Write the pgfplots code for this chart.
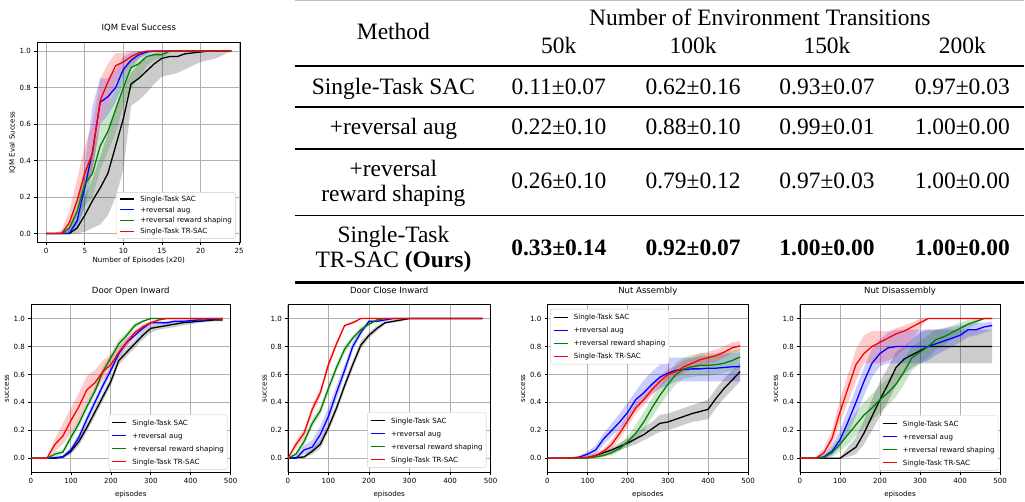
\documentclass[border=0pt]{standalone}
\usepackage{pgfplots}
\pgfplotsset{compat=1.18}
\usepackage{pgfplotstable}
\usepgfplotslibrary{fillbetween}
\usepackage{fontspec}
\setmainfont{Liberation Serif}
\newfontfamily\dejavu{DejaVu Sans}
\definecolor{mblue}{HTML}{0000FF}
\definecolor{mgreen}{HTML}{008000}
\definecolor{mred}{HTML}{FF0000}
\definecolor{gridc}{HTML}{B0B0B0}
\definecolor{legc}{HTML}{CCCCCC}
\newcommand{\tickfont}{\dejavu\fontsize{7.1}{8.5}\selectfont}
\newcommand{\titlefont}{\dejavu\fontsize{8.55}{10}\selectfont}
\newcommand{\tabfont}{\fontsize{23.5}{28}\selectfont}

\pgfplotsset{
  mplstyle/.style={
    scale only axis,
    anchor=north west,
    axis line style={black, line width=0.6pt},
    grid=major,
    major grid style={gridc, line width=0.8pt},
    tick align=outside,
    tick pos=left,
    major tick length=2.5pt,
    every tick/.style={black, line width=0.6pt},
    tick label style={font=\tickfont},
    label style={font=\tickfont},
    title style={font=\titlefont, at={(axis description cs:0.5,1)}, anchor=base, yshift=5.5pt},
    /pgf/number format/assume math mode=true,
    yticklabel style={/pgf/number format/fixed, /pgf/number format/fixed zerofill, /pgf/number format/precision=1},
    ytick={0,0.2,0.4,0.6,0.8,1},
  },
  bot/.style={
    mplstyle, width=200pt, height=168pt,
    xmin=0, xmax=500, ymin=-0.1, ymax=1.1,
    xtick={0,100,200,300,400,500},
    xlabel={episodes}, ylabel={success},
    xlabel style={at={(axis description cs:0.5,0)}, anchor=base, yshift=-24.3pt},
  },
}

% legend key: coloured rule + label
\newcommand{\lkey}[1]{\textcolor{#1}{\rule[1.7pt]{14pt}{1.2pt}}}
% #1 = array stretch, #2 = position, #3 = anchor
\newcommand{\mlegend}[3]{%
  \node[draw=legc, rounded corners=2pt, fill=white, inner xsep=3.5pt, inner ysep=1.5pt,
        anchor=#3, font=\tickfont] at (#2) {%
    \def\arraystretch{#1}%
    \begin{tabular}{@{}l@{\hspace{6pt}}l@{}}
    \lkey{black} & Single-Task SAC\\
    \lkey{mblue} & +reversal aug\\
    \lkey{mgreen} & +reversal reward shaping\\
    \lkey{mred} & Single-Task TR-SAC
    \end{tabular}};
}

\newcommand{\drawset}[1]{%
  \addplot[draw=none,forget plot,name path=kh] table[x=x,y=kh]{#1};
  \addplot[draw=none,forget plot,name path=kl] table[x=x,y=kl]{#1};
  \addplot[fill=black,fill opacity=0.2,draw=none,forget plot] fill between[of=kh and kl];
  \addplot[draw=none,forget plot,name path=bh] table[x=x,y=bh]{#1};
  \addplot[draw=none,forget plot,name path=bl] table[x=x,y=bl]{#1};
  \addplot[fill=mblue,fill opacity=0.2,draw=none,forget plot] fill between[of=bh and bl];
  \addplot[draw=none,forget plot,name path=gh] table[x=x,y=gh]{#1};
  \addplot[draw=none,forget plot,name path=gl] table[x=x,y=gl]{#1};
  \addplot[fill=mgreen,fill opacity=0.2,draw=none,forget plot] fill between[of=gh and gl];
  \addplot[draw=none,forget plot,name path=rh] table[x=x,y=rh]{#1};
  \addplot[draw=none,forget plot,name path=rl] table[x=x,y=rl]{#1};
  \addplot[fill=mred,fill opacity=0.2,draw=none,forget plot] fill between[of=rh and rl];
  \addplot[black,line width=1.3pt,forget plot] table[x=x,y=km]{#1};
  \addplot[mblue,line width=1.3pt,forget plot] table[x=x,y=bm]{#1};
  \addplot[mgreen,line width=1.3pt,forget plot] table[x=x,y=gm]{#1};
  \addplot[mred,line width=1.3pt,forget plot] table[x=x,y=rm]{#1};
}

\pgfplotstableread{
x km kl kh bm bl bh gm gl gh rm rl rh
0 0 0 0 0 0 0 0 0 0 0 0 0
1 0 0 0 0 0 0 0 0 0 0 0 0
2 0 0 0 0 0 0 0 0 0.01 0 0 0.02
3 0 0 0.02 0 0 0.03 0.03 0 0.06 0.06 0.02 0.12
4 0.03 0 0.08 0.07 0.02 0.13 0.12 0.05 0.2 0.18 0.1 0.3
5 0.1 0.01 0.2 0.25 0.15 0.38 0.27 0.15 0.35 0.33 0.24 0.48
6 0.18 0.03 0.3 0.45 0.35 0.7 0.33 0.2 0.45 0.44 0.35 0.6
7 0.25 0.05 0.42 0.72 0.6 0.85 0.48 0.35 0.6 0.73 0.6 0.85
8 0.33 0.1 0.55 0.75 0.65 0.85 0.56 0.45 0.7 0.83 0.7 0.93
9 0.48 0.2 0.68 0.8 0.72 0.9 0.68 0.55 0.8 0.92 0.83 0.99
10 0.63 0.35 0.8 0.9 0.82 0.97 0.8 0.7 0.9 0.94 0.88 0.99
11 0.82 0.7 0.88 0.95 0.9 0.99 0.91 0.8 0.96 0.97 0.93 1
12 0.85 0.73 0.93 0.98 0.96 1 0.93 0.85 0.98 0.99 0.96 1
13 0.89 0.77 0.97 0.995 0.98 1 0.97 0.92 1 1 0.99 1
14 0.93 0.82 0.99 1 1 1 0.98 0.95 1 1 1 1
15 0.96 0.86 1 1 1 1 0.98 0.96 1 1 1 1
16 0.97 0.87 1 1 1 1 1 0.99 1 1 1 1
17 0.97 0.88 1 1 1 1 1 1 1 1 1 1
18 0.985 0.9 1 1 1 1 1 1 1 1 1 1
19 0.99 0.92 1 1 1 1 1 1 1 1 1 1
20 0.995 0.94 1 1 1 1 1 1 1 1 1 1
21 1 0.95 1 1 1 1 1 1 1 1 1 1
22 1 0.96 1 1 1 1 1 1 1 1 1 1
23 1 0.98 1 1 1 1 1 1 1 1 1 1
24 1 1 1 1 1 1 1 1 1 1 1 1
}\tabIQM

\pgfplotstableread{
x km kl kh bm bl bh gm gl gh rm rl rh
0 0 0 0 0 0 0 0 0 0 0 0 0
20 0 0 0 0 0 0 0 0 0 0 0 0
40 0 0 0 0 0 0 0 0 0 0 0 0.01
60 0 0 0.01 0.005 0 0.01 0.03 0.01 0.05 0.1 0.05 0.14
80 0.01 0 0.02 0.01 0 0.02 0.045 0.03 0.06 0.16 0.1 0.25
100 0.05 0.03 0.07 0.06 0.04 0.08 0.15 0.12 0.18 0.27 0.18 0.36
120 0.12 0.09 0.15 0.15 0.12 0.18 0.25 0.22 0.28 0.37 0.27 0.47
140 0.22 0.19 0.25 0.28 0.25 0.31 0.37 0.34 0.4 0.49 0.4 0.59
160 0.33 0.3 0.36 0.4 0.37 0.43 0.48 0.45 0.51 0.54 0.47 0.63
180 0.44 0.41 0.47 0.52 0.49 0.55 0.62 0.59 0.65 0.62 0.56 0.7
200 0.55 0.52 0.58 0.63 0.6 0.66 0.72 0.69 0.75 0.67 0.62 0.74
220 0.7 0.67 0.73 0.75 0.72 0.78 0.82 0.79 0.85 0.76 0.73 0.8
240 0.76 0.73 0.79 0.83 0.8 0.86 0.88 0.86 0.9 0.83 0.8 0.86
260 0.82 0.79 0.85 0.88 0.86 0.9 0.95 0.93 0.97 0.9 0.88 0.92
280 0.88 0.85 0.91 0.93 0.91 0.95 0.98 0.97 0.99 0.94 0.92 0.96
300 0.93 0.9 0.95 0.97 0.95 0.98 1 1 1 0.97 0.96 0.98
320 0.94 0.92 0.96 0.97 0.96 0.98 1 1 1 0.99 0.98 1
340 0.95 0.93 0.97 0.97 0.96 0.98 1 1 1 1 1 1
360 0.96 0.94 0.97 0.98 0.97 0.99 1 1 1 1 1 1
380 0.97 0.95 0.98 0.98 0.97 0.99 1 1 1 1 1 1
400 0.975 0.96 0.985 0.985 0.975 0.995 1 1 1 1 1 1
420 0.98 0.97 0.99 0.99 0.98 1 1 1 1 1 1 1
440 0.985 0.975 0.99 0.99 0.98 1 1 1 1 1 1 1
460 0.99 0.98 1 0.995 0.99 1 1 1 1 1 1 1
480 0.99 0.98 1 1 1 1 1 1 1 1 1 1
}\tabDO

\pgfplotstableread{
x km kl kh bm bl bh gm gl gh rm rl rh
0 0 0 0 0 0 0 0 0 0 0 0 0
20 0.005 0 0.01 0 0 0.01 0.03 0.01 0.05 0.1 0.07 0.13
40 0.01 0 0.02 0.06 0.03 0.09 0.12 0.09 0.15 0.18 0.15 0.21
60 0.05 0.03 0.07 0.08 0.04 0.13 0.25 0.22 0.28 0.35 0.32 0.38
80 0.1 0.07 0.13 0.17 0.11 0.23 0.34 0.31 0.37 0.47 0.44 0.5
100 0.22 0.19 0.25 0.3 0.25 0.36 0.5 0.47 0.53 0.67 0.64 0.7
120 0.36 0.33 0.39 0.47 0.42 0.52 0.65 0.62 0.68 0.82 0.8 0.84
140 0.52 0.49 0.55 0.63 0.59 0.67 0.78 0.75 0.81 0.95 0.94 0.96
160 0.67 0.64 0.7 0.8 0.77 0.83 0.86 0.84 0.88 0.97 0.96 0.98
180 0.81 0.78 0.84 0.9 0.88 0.92 0.92 0.9 0.94 1 1 1
200 0.88 0.86 0.9 0.98 0.97 0.99 0.96 0.95 0.97 1 1 1
220 0.93 0.91 0.95 0.98 0.97 0.99 0.99 0.98 1 1 1 1
240 0.97 0.96 0.98 0.99 0.98 1 1 1 1 1 1 1
260 0.98 0.97 0.99 1 1 1 1 1 1 1 1 1
280 0.99 0.98 1 1 1 1 1 1 1 1 1 1
300 1 1 1 1 1 1 1 1 1 1 1 1
320 1 1 1 1 1 1 1 1 1 1 1 1
340 1 1 1 1 1 1 1 1 1 1 1 1
360 1 1 1 1 1 1 1 1 1 1 1 1
380 1 1 1 1 1 1 1 1 1 1 1 1
400 1 1 1 1 1 1 1 1 1 1 1 1
420 1 1 1 1 1 1 1 1 1 1 1 1
440 1 1 1 1 1 1 1 1 1 1 1 1
460 1 1 1 1 1 1 1 1 1 1 1 1
480 1 1 1 1 1 1 1 1 1 1 1 1
}\tabDC

\pgfplotstableread{
x km kl kh bm bl bh gm gl gh rm rl rh
0 0 0 0 0 0 0 0 0 0 0 0 0
20 0 0 0 0 0 0.005 0 0 0 0 0 0.005
40 0 0 0 0 0 0.005 0 0 0 0 0 0.005
60 0 0 0 0 0 0.01 0 0 0 0.003 0 0.008
80 0 0 0.005 0.01 0 0.02 0 0 0.005 0.005 0 0.01
100 0.005 0 0.01 0.03 0.01 0.05 0.003 0 0.01 0.008 0 0.02
120 0.02 0.01 0.03 0.06 0.03 0.09 0.01 0 0.02 0.02 0.01 0.04
140 0.04 0.02 0.06 0.14 0.1 0.18 0.02 0.01 0.03 0.05 0.03 0.07
160 0.06 0.04 0.08 0.2 0.16 0.25 0.04 0.02 0.06 0.1 0.07 0.13
180 0.085 0.06 0.11 0.26 0.21 0.32 0.07 0.05 0.1 0.18 0.14 0.22
200 0.11 0.08 0.14 0.33 0.27 0.4 0.12 0.09 0.16 0.27 0.23 0.31
220 0.14 0.1 0.18 0.42 0.35 0.48 0.18 0.13 0.24 0.36 0.32 0.4
240 0.17 0.13 0.22 0.47 0.41 0.56 0.26 0.2 0.33 0.42 0.38 0.46
260 0.21 0.16 0.26 0.53 0.46 0.62 0.36 0.29 0.43 0.49 0.45 0.53
280 0.25 0.19 0.31 0.58 0.5 0.67 0.45 0.38 0.52 0.55 0.51 0.59
300 0.26 0.2 0.32 0.61 0.52 0.72 0.53 0.46 0.6 0.6 0.56 0.64
320 0.28 0.22 0.34 0.63 0.55 0.72 0.6 0.53 0.68 0.62 0.58 0.66
340 0.3 0.24 0.36 0.635 0.55 0.72 0.64 0.57 0.72 0.655 0.61 0.7
360 0.32 0.26 0.38 0.64 0.55 0.72 0.655 0.58 0.74 0.68 0.64 0.72
380 0.335 0.27 0.4 0.64 0.55 0.73 0.665 0.59 0.75 0.705 0.66 0.75
400 0.35 0.28 0.42 0.645 0.55 0.73 0.665 0.59 0.75 0.72 0.68 0.76
420 0.43 0.36 0.5 0.645 0.55 0.74 0.67 0.6 0.75 0.735 0.69 0.78
440 0.5 0.43 0.57 0.65 0.55 0.75 0.68 0.61 0.76 0.76 0.72 0.8
460 0.56 0.49 0.63 0.655 0.55 0.75 0.7 0.63 0.77 0.79 0.75 0.83
480 0.62 0.55 0.68 0.655 0.55 0.76 0.725 0.66 0.78 0.805 0.77 0.84
}\tabNA

\pgfplotstableread{
x km kl kh bm bl bh gm gl gh rm rl rh
0 0 0 0 0 0 0 0 0 0 0 0 0
20 0 0 0 0 0 0 0 0 0 0 0 0
40 0 0 0 0 0 0.005 0 0 0.005 0 0 0.01
60 0 0 0 0.01 0 0.03 0.005 0 0.02 0.04 0.02 0.07
80 0 0 0 0.05 0.02 0.09 0.04 0.01 0.08 0.14 0.09 0.2
100 0 0 0.005 0.13 0.08 0.2 0.1 0.05 0.16 0.33 0.25 0.42
120 0.04 0.01 0.08 0.26 0.18 0.35 0.17 0.1 0.25 0.5 0.4 0.6
140 0.08 0.03 0.15 0.4 0.3 0.5 0.24 0.16 0.33 0.67 0.55 0.78
160 0.18 0.1 0.27 0.55 0.45 0.65 0.31 0.22 0.4 0.75 0.68 0.88
180 0.3 0.2 0.42 0.68 0.58 0.78 0.36 0.27 0.46 0.8 0.68 0.91
200 0.42 0.3 0.55 0.75 0.66 0.85 0.42 0.33 0.52 0.83 0.68 0.91
220 0.53 0.41 0.65 0.79 0.68 0.9 0.47 0.38 0.57 0.86 0.7 0.91
240 0.65 0.52 0.76 0.8 0.68 0.92 0.53 0.44 0.63 0.89 0.73 0.93
260 0.71 0.6 0.8 0.8 0.68 0.92 0.62 0.53 0.71 0.91 0.78 0.95
280 0.74 0.65 0.85 0.8 0.68 0.92 0.72 0.63 0.8 0.94 0.85 0.97
300 0.77 0.68 0.9 0.8 0.68 0.92 0.76 0.68 0.84 0.97 0.93 1
320 0.8 0.68 0.92 0.8 0.7 0.92 0.8 0.72 0.88 1 1 1
340 0.8 0.68 0.92 0.82 0.74 0.92 0.85 0.78 0.92 1 1 1
360 0.8 0.68 0.92 0.84 0.77 0.93 0.87 0.81 0.93 1 1 1
380 0.8 0.68 0.92 0.86 0.8 0.94 0.9 0.85 0.95 1 1 1
400 0.8 0.68 0.92 0.88 0.83 0.95 0.93 0.89 0.97 1 1 1
420 0.8 0.68 0.92 0.92 0.87 0.96 0.96 0.93 0.99 1 1 1
440 0.8 0.68 0.92 0.92 0.88 0.97 0.98 0.96 1 1 1 1
460 0.8 0.68 0.92 0.94 0.9 0.97 1 1 1 1 1 1
480 0.8 0.68 0.92 0.95 0.92 0.98 1 1 1 1 1 1
}\tabND

\begin{document}
\begin{tikzpicture}

% ---------- top-left IQM ----------
\begin{axis}[mplstyle, at={(37pt,-42pt)}, width=204pt, height=201pt,
  xmin=-1.2, xmax=25.2, ymin=-0.05, ymax=1.05,
  xtick={0,5,10,15,20,25},
  title={IQM Eval Success},
  xlabel={Number of Episodes (x20)}, ylabel={IQM Eval Success},
  xlabel style={at={(axis description cs:0.5,0)}, anchor=base, yshift=-19.6pt},
  ylabel style={at={(axis description cs:-0.110,0.5)}, anchor=base},
]
\drawset{\tabIQM}
\mlegend{1.27}{axis description cs:0.975,0.02}{south east}
\end{axis}

% ---------- bottom row ----------
\begin{axis}[bot, at={(31pt,-305pt)},
  title={Door Open Inward},
  ylabel style={at={(axis description cs:-0.11,0.5)}, anchor=base},
]
\drawset{\tabDO}
\mlegend{1.53}{axis description cs:0.985,0.016}{south east}
\end{axis}

\begin{axis}[bot, at={(288.3pt,-305pt)}, width=203pt,
  title={Door Close Inward},
  ylabel style={at={(axis description cs:-0.105,0.5)}, anchor=base},
]
\drawset{\tabDC}
\mlegend{1.53}{axis description cs:0.979,0.028}{south east}
\end{axis}

\begin{axis}[bot, at={(548.3pt,-305pt)}, width=201pt,
  title={Nut Assembly},
  ylabel style={at={(axis description cs:-0.111,0.5)}, anchor=base},
]
\drawset{\tabNA}
\mlegend{1.53}{axis description cs:0.013,0.974}{north west}
\end{axis}

\begin{axis}[bot, at={(801pt,-305pt)}, width=200.7pt,
  title={Nut Disassembly},
  ylabel style={at={(axis description cs:-0.11,0.5)}, anchor=base},
]
\drawset{\tabND}
\mlegend{1.53}{axis description cs:0.99,0.01}{south east}
\end{axis}

% ---------- table ----------
\draw[black!25, line width=1pt] (295pt,-0.6pt) -- (1025pt,-0.6pt);
\draw[line width=1.6pt] (295pt,-66pt) -- (1025pt,-66pt);
\draw[line width=1.6pt] (295pt,-107pt) -- (1025pt,-107pt);
\draw[line width=1.6pt] (295pt,-149pt) -- (1025pt,-149pt);
\draw[line width=1.6pt] (295pt,-216pt) -- (1025pt,-216pt);
\draw[line width=3pt] (295pt,-283pt) -- (1025pt,-283pt);

\begin{scope}[every node/.style={anchor=base, inner sep=0pt, font=\tabfont}]
\node at (761pt,-26pt) {Number of Environment Transitions};
\node at (394pt,-40pt) {Method};
\node at (559.6pt,-53.3pt) {50k};
\node at (694.1pt,-53.3pt) {100k};
\node at (828.2pt,-53.3pt) {150k};
\node at (963.7pt,-53.3pt) {200k};

\node at (394pt,-94.3pt) {Single-Task SAC};
\node at (559.6pt,-94.3pt) {0.11±0.07};
\node at (694.1pt,-94.3pt) {0.62±0.16};
\node at (828.2pt,-94.3pt) {0.93±0.07};
\node at (963.7pt,-94.3pt) {0.97±0.03};

\node at (394pt,-135pt) {+reversal aug};
\node at (559.6pt,-135pt) {0.22±0.10};
\node at (694.1pt,-135pt) {0.88±0.10};
\node at (828.2pt,-135pt) {0.99±0.01};
\node at (963.7pt,-135pt) {1.00±0.00};

\node at (394pt,-176.7pt) {+reversal};
\node at (394pt,-201.7pt) {reward shaping};
\node at (559.6pt,-188.3pt) {0.26±0.10};
\node at (694.1pt,-188.3pt) {0.79±0.12};
\node at (828.2pt,-188.3pt) {0.97±0.03};
\node at (963.7pt,-188.3pt) {1.00±0.00};

\node at (394pt,-242.7pt) {Single-Task};
\node at (394pt,-268.3pt) {TR-SAC \textbf{(Ours)}};
\node at (559.6pt,-256pt) {\bfseries 0.33±0.14};
\node at (694.1pt,-256pt) {\bfseries 0.92±0.07};
\node at (828.2pt,-256pt) {\bfseries 1.00±0.00};
\node at (963.7pt,-256pt) {\bfseries 1.00±0.00};
\end{scope}

\path[use as bounding box] (0pt,0pt) rectangle (1025pt,-498pt);
\end{tikzpicture}
\end{document}
